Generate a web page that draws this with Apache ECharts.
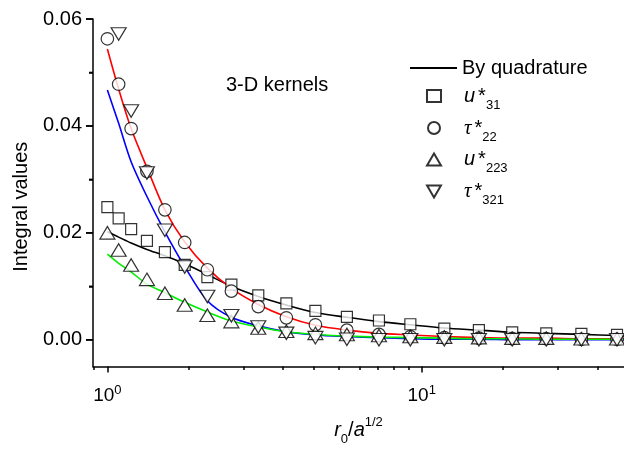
<!DOCTYPE html>
<html>
<head>
<meta charset="utf-8">
<script src="https://cdn.jsdelivr.net/npm/echarts@6/dist/echarts.min.js"></script>
<style>html,body{margin:0;padding:0;background:#fff}#c{width:624px;height:450px}</style>
</head>
<body>
<div id="c"></div>
<script>
// ---- data ----
const xVals = [1.0, 1.086, 1.19, 1.336, 1.524, 1.762, 2.08, 2.48, 3.02, 3.71, 4.59, 5.78, 7.31, 9.2, 11.8, 15.2, 19.4, 24.9, 32.2, 41.8];
const u31    = [0.0248, 0.0227, 0.0207, 0.0185, 0.0164, 0.0140, 0.0117, 0.0103, 0.0083, 0.0068, 0.0054, 0.0043, 0.0036, 0.0029, 0.0021, 0.0018, 0.0014, 0.0012, 0.0011, 0.0009];
const tau22  = [0.0563, 0.0478, 0.0395, 0.0315, 0.0243, 0.0182, 0.0131, 0.0091, 0.0062, 0.0041, 0.0028, 0.0018, 0.0010, 0.0006, 0.0004, 0.0003, 0.0002, 0.0002, 0.0001, 0.0001];
const u223   = [0.0200, 0.0168, 0.0140, 0.0113, 0.0087, 0.0065, 0.0046, 0.0034, 0.0022, 0.0016, 0.0012, 0.0010, 0.0008, 0.0006, 0.0005, 0.0004, 0.0003, 0.0003, 0.0002, 0.0002];
const tau321 = [null, 0.0572, 0.0428, 0.0312, 0.0205, 0.0136, 0.0081, 0.0045, 0.0024, 0.0012, 0.0004, 0.0001, 0.0000, 0.0000, 0.0000, 0.0000, 0.0000, 0.0000, 0.0000, 0.0000];

const quadX      = [1.0, 1.086, 1.19, 1.336, 1.524, 1.762, 2.08, 2.48, 3.02, 3.71, 4.59, 5.78, 7.31, 9.2, 11.8, 15.2, 19.4, 24.9, 32.2, 41.8, 44];
const quadU31    = [0.0202, 0.0192, 0.0181, 0.0169, 0.0157, 0.0142, 0.0122, 0.0100, 0.0081, 0.0065, 0.0051, 0.0042, 0.0034, 0.0028, 0.0022, 0.0018, 0.0014, 0.0012, 0.0010, 0.0008, 0.0007];
const quadTau22  = [0.0544, 0.0469, 0.0395, 0.0322, 0.0243, 0.0183, 0.0134, 0.0096, 0.0066, 0.0043, 0.0027, 0.0018, 0.0012, 0.0009, 0.0006, 0.0004, 0.0003, 0.0003, 0.0002, 0.0002, 0.0002];
const quadU223   = [0.0160, 0.0143, 0.0127, 0.0104, 0.0088, 0.0070, 0.0052, 0.0035, 0.0024, 0.0015, 0.0010, 0.0007, 0.0005, 0.0004, 0.0003, 0.0002, 0.0002, 0.0001, 0.0001, 0.0001, 0.0001];
const quadTau321 = [0.0467, 0.0405, 0.0333, 0.0268, 0.0202, 0.0137, 0.0073, 0.0042, 0.0026, 0.0015, 0.0009, 0.0006, 0.0004, 0.0002, 0.0001, 0.0001, 0.0000, 0.0000, 0.0000, 0.0000, 0.0000];

const yTickValues  = [0, 0.02, 0.04, 0.06];
const yMinorTicks  = [0.01, 0.03, 0.05];
const xTickValues  = [1, 10];
const xTickExps    = ['0', '1'];
const xMinorTicks  = [0.906, 1.812, 2.718, 3.624, 4.53, 5.436, 6.342, 7.248, 8.154, 9.06, 18.12, 27.18, 36.24];

const legendLabels = {
  'u31':    '{it|u}{st|*}{sub|31}',
  'tau22':  '{tau|τ}{st|*}{sub|22}',
  'u223':   '{it|u}{st|*}{sub|223}',
  'tau321': '{tau|τ}{st|*}{sub|321}'
};

// ---- helpers ----
const pairs = (xs, ys) => xs.map((x, i) => ys[i] == null ? null : [x, ys[i]]).filter(p => p);
const FONT = 'Liberation Sans, Arial, sans-serif';
const markerStyle = {color: '#ffffff', borderColor: '#000000', borderWidth: 1.2};
const DOWN_TRI = 'path://M0,0 L20,0 L10,17.3 Z';

const chart = echarts.init(document.getElementById('c'), null, {renderer: 'canvas'});
const lineSeries = (name, ys, color) => ({
  name, type: 'line', data: pairs(quadX, ys), symbol: 'none', smooth: 0.3,
  lineStyle: {color, width: 1.6}, itemStyle: {color}, z: 2, silent: true
});
const scatterSeries = (name, ys, symbol, size, rot) => ({
  name, type: 'scatter', data: pairs(xVals, ys), symbol, symbolSize: size, symbolRotate: rot || 0,
  itemStyle: markerStyle, z: 5
});

const legendRich = {
  it:  {fontSize: 20, fontStyle: 'italic', fontFamily: FONT, lineHeight: 31, color: '#000'},
  tau: {fontSize: 21, fontStyle: 'italic', fontFamily: 'Liberation Serif, serif', lineHeight: 31, color: '#000'},
  st:  {fontSize: 20, fontFamily: FONT, lineHeight: 31, padding: [0, 0, 0, 3], color: '#000'},
  sub: {fontSize: 13, fontFamily: FONT, lineHeight: 8, verticalAlign: 'bottom', color: '#000'}
};

const option = {
  animation: false,
  backgroundColor: '#ffffff',
  textStyle: {fontFamily: FONT, color: '#000'},
  title: {
    text: '3-D kernels', left: 226, top: 75, padding: 0,
    textStyle: {fontSize: 20, fontWeight: 'normal', color: '#000', fontFamily: FONT}
  },
  grid: {left: 93, top: 19, right: 0, bottom: 83.5, containLabel: false, outerBoundsMode: 'none'},
  legend: [
    {
      data: [{name: 'By quadrature', icon: 'rect'}], left: 410, top: 58, padding: 0,
      itemWidth: 47, itemHeight: 2,
      textStyle: {fontSize: 20, color: '#000', fontFamily: FONT}
    },
    {
      data: [{name: 'u31'}, {name: 'tau22'}, {name: 'u223'}, {name: 'tau321', icon: DOWN_TRI}],
      orient: 'vertical', left: 426, top: 86, padding: 0,
      itemWidth: 14, itemHeight: 12, itemGap: 6,
      formatter: name => legendLabels[name],
      textStyle: {fontSize: 20, color: '#000', rich: legendRich, padding: [0, 0, 0, 18]}
    }
  ],
  xAxis: [
    {
      type: 'log', min: 0.9, max: 44, position: 'bottom',
      axisLine: {show: true, onZero: false, lineStyle: {color: '#000', width: 1.5}},
      axisTick: {show: true, customValues: xTickValues, length: 6, lineStyle: {color: '#000', width: 1.5}},
      axisLabel: {
        customValues: xTickValues, margin: 17, color: '#000',
        formatter: v => '{b|10}{s|' + xTickExps[xTickValues.indexOf(v)] + '}',
        rich: {
          b: {fontSize: 19, fontFamily: FONT, lineHeight: 24, color: '#000'},
          s: {fontSize: 13, fontFamily: FONT, lineHeight: 10, verticalAlign: 'top', color: '#000'}
        }
      },
      splitLine: {show: false},
      name: '{i|r}{sub|0}{n|/}{i|a}{sup|1/2}', nameLocation: 'middle', nameGap: 49,
      nameTextStyle: {
        rich: {
          i:   {fontSize: 20, fontStyle: 'italic', fontFamily: FONT, lineHeight: 30, color: '#000'},
          n:   {fontSize: 20, fontFamily: FONT, lineHeight: 30, color: '#000'},
          sub: {fontSize: 13, fontFamily: FONT, lineHeight: 8, verticalAlign: 'bottom', color: '#000'},
          sup: {fontSize: 13, fontFamily: FONT, lineHeight: 8, verticalAlign: 'top', color: '#000'}
        }
      }
    },
    {
      type: 'log', min: 0.9, max: 44, position: 'bottom',
      axisLine: {show: false, onZero: false},
      axisTick: {show: true, customValues: xMinorTicks, length: 3.5, lineStyle: {color: '#000', width: 1.5}},
      axisLabel: {show: false},
      splitLine: {show: false}
    }
  ],
  yAxis: [
    {
      type: 'value', min: -0.005, max: 0.06, position: 'left',
      axisLine: {show: true, onZero: false, lineStyle: {color: '#000', width: 1.5}},
      axisTick: {show: true, customValues: yTickValues, length: 7, lineStyle: {color: '#000', width: 1.5}},
      axisLabel: {customValues: yTickValues, formatter: v => v.toFixed(2), fontSize: 20, margin: 11, color: '#000', fontFamily: FONT},
      splitLine: {show: false},
      name: 'Integral values', nameLocation: 'middle', nameGap: 62,
      nameTextStyle: {fontSize: 20, color: '#000', fontFamily: FONT, padding: [0, 28, 0, 0]}
    },
    {
      type: 'value', min: -0.005, max: 0.06, position: 'left',
      axisLine: {show: false, onZero: false},
      axisTick: {show: true, customValues: yMinorTicks, length: 4, lineStyle: {color: '#000', width: 1.5}},
      axisLabel: {show: false},
      splitLine: {show: false}
    }
  ],
  series: [
    lineSeries('By quadrature', quadU31, '#000000'),
    lineSeries('quadTau22', quadTau22, '#ff0000'),
    lineSeries('quadTau321', quadTau321, '#0000ff'),
    lineSeries('quadU223', quadU223, '#00ee00'),
    scatterSeries('u31', u31, 'rect', 11),
    scatterSeries('tau22', tau22, 'circle', 12.5),
    scatterSeries('u223', u223, 'triangle', [15, 12.5]),
    scatterSeries('tau321', tau321, 'triangle', [15, 12.5], 180)
  ]
};
chart.setOption(option);

// y-axis ticks placed through the library's own y scale (in case native ticks are not drawn)
const axisX = chart.convertToPixel({xAxisIndex: 0}, 0.9);
const tickEls = [];
yTickValues.forEach(v => {
  const y = chart.convertToPixel({yAxisIndex: 0}, v);
  tickEls.push({type: 'line', shape: {x1: axisX - 7, y1: y, x2: axisX, y2: y}, style: {stroke: '#000', lineWidth: 1.5}, silent: true});
});
yMinorTicks.forEach(v => {
  const y = chart.convertToPixel({yAxisIndex: 0}, v);
  tickEls.push({type: 'line', shape: {x1: axisX - 4, y1: y, x2: axisX, y2: y}, style: {stroke: '#000', lineWidth: 1.5}, silent: true});
});
chart.setOption({graphic: tickEls});
</script>
</body>
</html>
